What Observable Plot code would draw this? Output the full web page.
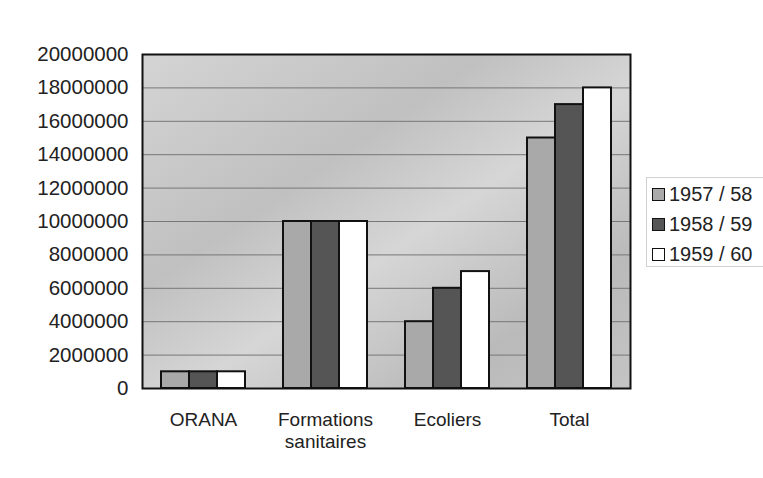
<!DOCTYPE html>
<html><head><meta charset="utf-8">
<script src="https://cdn.jsdelivr.net/npm/d3@7"></script>
<script src="https://cdn.jsdelivr.net/npm/@observablehq/plot@0.6"></script>
<style>
body{margin:0;background:#fff;font-family:"Liberation Sans",Arial,sans-serif}
#wrap{position:relative;width:763px;height:478px;overflow:hidden}
#legend{position:absolute;left:646px;top:177px;width:125px;height:90px;border:1px solid #d0d0d0;box-sizing:border-box;padding:1px 0 0 5px;font-size:20px;color:#222}
.item{display:flex;align-items:center;height:30px}
.sw{width:11px;height:11px;border:1.5px solid #111;margin-right:4px}
</style></head>
<body>
<svg width="0" height="0" style="position:absolute">
<defs>
<linearGradient id="bg" x1="0" y1="0" x2="1" y2="1">
<stop offset="0" stop-color="#d4d4d4"/>
<stop offset="0.35" stop-color="#c0c0c0"/>
<stop offset="0.55" stop-color="#d6d6d6"/>
<stop offset="0.8" stop-color="#bababa"/>
<stop offset="1" stop-color="#c4c4c4"/>
</linearGradient>
</defs>
</svg>
<div id="wrap"><div id="legend"></div></div>
<script>
const categories = ["ORANA", "Formations sanitaires", "Ecoliers", "Total"];
const categoryLabels = ["ORANA", "Formations\nsanitaires", "Ecoliers", "Total"];
const seriesNames = ["1957 / 58", "1958 / 59", "1959 / 60"];
const values1957 = [1000000, 10000000, 4000000, 15000000];
const values1958 = [1000000, 10000000, 6000000, 17000000];
const values1959 = [1000000, 10000000, 7000000, 18000000];
const yTicks = [0, 2000000, 4000000, 6000000, 8000000, 10000000, 12000000, 14000000, 16000000, 18000000, 20000000];
const seriesColors = ["#a9a9a9", "#555555", "#ffffff"];

const seriesValues = [values1957, values1958, values1959];
const rows = [];
categories.forEach((c, i) => seriesNames.forEach((s, j) => rows.push({category: c, series: s, value: seriesValues[j][i]})));

const chart = Plot.plot({
  width: 763, height: 478,
  marginLeft: 142, marginRight: 133, marginTop: 54, marginBottom: 90,
  style: {fontFamily: '"Liberation Sans", Arial, sans-serif', fontSize: "19px", color: "#222", background: "transparent", overflow: "visible"},
  fx: {domain: categories, padding: 0, label: null, axis: null},
  x: {domain: seriesNames, paddingInner: 0, paddingOuter: 0.65, axis: null},
  y: {domain: [0, 20000000], label: null, axis: null},
  color: {domain: seriesNames, range: seriesColors},
  marks: [
    Plot.frame({fill: "url(#bg)", facet: "super"}),
    Plot.ruleY(yTicks, {stroke: "#777", strokeWidth: 1}),
    Plot.barY(rows, {fx: "category", x: "series", y: "value", fill: "series", stroke: "#111", strokeWidth: 2}),
    Plot.frame({stroke: "#111", strokeWidth: 2, facet: "super"}),
    Plot.axisY({ticks: yTicks, anchor: "left", tickSize: 0, tickPadding: 14, fontSize: 20.5, label: null, tickFormat: d => String(d)}),
    Plot.axisFx({anchor: "bottom", tickSize: 0, tickPadding: 21, lineHeight: 1.2, label: null,
      tickFormat: d => categoryLabels[categories.indexOf(d)]})
  ]
});
document.getElementById("wrap").prepend(chart);

const legend = d3.select("#legend");
seriesNames.forEach((s, i) => {
  const it = legend.append("div").attr("class", "item");
  it.append("div").attr("class", "sw").style("background", seriesColors[i]);
  it.append("span").text(s);
});
</script>
</body></html>
